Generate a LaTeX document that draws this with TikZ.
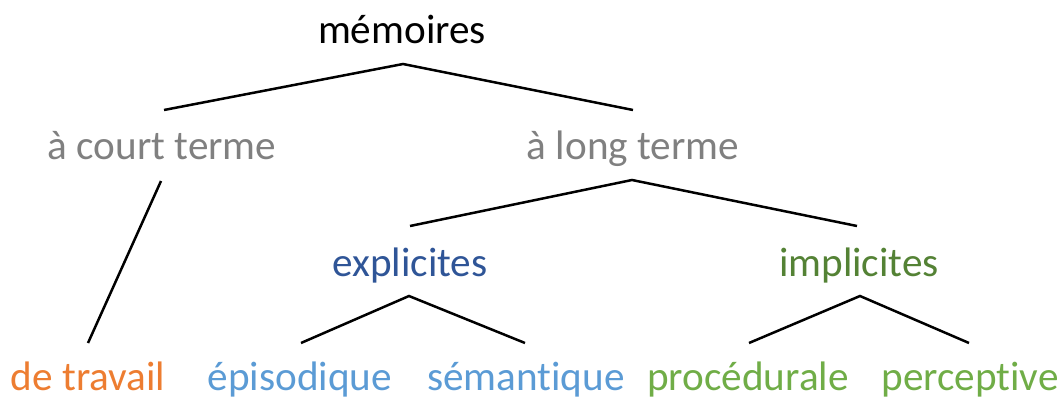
\documentclass[tikz,border=0pt]{standalone}
\usepackage{fontspec}
\setmainfont{Carlito}[Ligatures={NoCommon,NoRequired,NoContextual}]
\definecolor{greyT}{HTML}{808080}
\definecolor{darkblue}{HTML}{2F5597}
\definecolor{lightblue}{HTML}{5B9BD5}
\definecolor{orangeT}{HTML}{ED7D31}
\definecolor{greenT}{HTML}{70AD47}
\definecolor{darkgreen}{HTML}{548235}
\begin{document}
\begin{tikzpicture}[x=0.5pt,y=-0.5pt,
  lbl/.style={anchor=base,inner sep=0pt,font=\fontsize{20.6pt}{24pt}\selectfont},
  branch/.style={draw=black,line width=1.25pt,line join=miter}]
\useasboundingbox (0,0) rectangle (1062,397);
% texts
\node[lbl] (mem) at (402,43) {mémoires};
\node[lbl,text=greyT] (court) at (162,159) {à court terme};
\node[lbl,text=greyT] (long) at (633,159) {à long terme};
\node[lbl,text=darkblue] (expl) at (410,276) {explicites};
\node[lbl,text=darkgreen] (impl) at (859,276) {implicites};
\node[lbl,text=orangeT] (trav) at (88,390) {de travail};
\node[lbl,text=lightblue] (epi) at (300,390) {épisodique};
\node[lbl,text=lightblue] (sem) at (526,390) {sémantique};
\node[lbl,text=greenT] (proc) at (748,390) {procédurale};
\node[lbl,text=greenT] (perc) at (970,390) {perceptive};
% connector end points
\coordinate (memB) at (403,64);
\coordinate (courtT) at (164,110);
\coordinate (longT) at (633,110);
\coordinate (courtB) at (161,181);
\coordinate (travT) at (88,343);
\coordinate (longB) at (632,180);
\coordinate (explT) at (410,226);
\coordinate (implT) at (857,226);
\coordinate (explB) at (409,296);
\coordinate (epiT) at (301,343);
\coordinate (semT) at (525,343);
\coordinate (implB) at (860,296);
\coordinate (procT) at (749,343);
\coordinate (percT) at (969,343);
% connectors
\draw[branch] (courtT) -- (memB) -- (longT);
\draw[branch] (courtB) -- (travT);
\draw[branch] (explT) -- (longB) -- (implT);
\draw[branch] (epiT) -- (explB) -- (semT);
\draw[branch] (procT) -- (implB) -- (percT);
\end{tikzpicture}
\end{document}
